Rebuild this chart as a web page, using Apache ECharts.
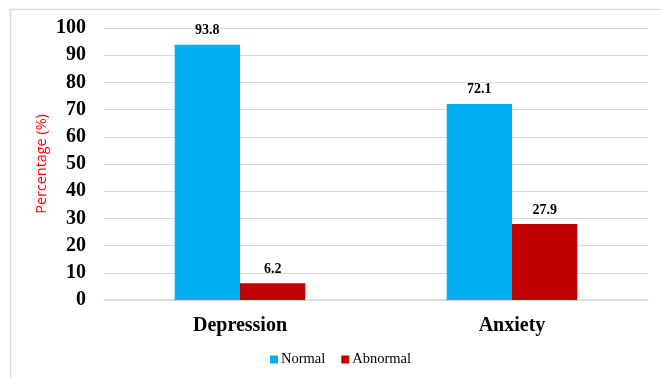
<!DOCTYPE html>
<html>
<head>
<meta charset="utf-8">
<style>
  html, body { margin: 0; padding: 0; background: #fff; }
  #chart { width: 661px; height: 378px; }
</style>
<script src="https://cdn.jsdelivr.net/npm/echarts@6/dist/echarts.min.js"></script>
</head>
<body>
<div id="chart"></div>
<script>
// Screening outcomes by scale
const categories = ['Depression', 'Anxiety'];
const normalValues = [93.8, 72.1];
const abnormalValues = [6.2, 27.9];
const seriesNames = ['Normal', 'Abnormal'];
const yTicks = [0, 10, 20, 30, 40, 50, 60, 70, 80, 90, 100];

const serif = '"Liberation Serif", "Times New Roman", serif';
const chart = echarts.init(document.getElementById('chart'), null, { renderer: 'canvas' });

const labelStyle = {
  show: true,
  position: 'top',
  distance: 7,
  fontFamily: serif,
  fontWeight: 'bold',
  fontSize: 14,
  color: '#000'
};

chart.setOption({
  animation: false,
  backgroundColor: '#fff',
  graphic: [{
    type: 'polyline',
    shape: { points: [[10.5, 378], [10.5, 9.5], [661, 9.5]] },
    style: { stroke: '#d9d9d9', lineWidth: 1.5, fill: null },
    silent: true
  }],
  legend: {
    data: seriesNames,
    bottom: 6,
    left: 265,
    itemWidth: 8,
    itemHeight: 8,
    itemGap: 16,
    icon: 'rect',
    textStyle: { fontFamily: serif, fontSize: 14.5, color: '#000', padding: [0, 0, 0, -2] }
  },
  grid: { left: 104, right: 13, top: 28, bottom: 78 },
  xAxis: {
    type: 'category',
    data: categories,
    axisTick: { show: false },
    axisLine: { lineStyle: { color: '#d9d9d9', width: 1.5 } },
    axisLabel: {
      fontFamily: serif,
      fontWeight: 'bold',
      fontSize: 20,
      color: '#000',
      margin: 16
    }
  },
  yAxis: {
    type: 'value',
    min: 0,
    max: 100,
    interval: 10,
    name: 'Percentage (%)',
    nameLocation: 'middle',
    nameGap: 55,
    nameMoveOverlap: false,
    nameTextStyle: { fontFamily: '"Open Sans", "Liberation Sans", sans-serif', fontSize: 14.4, color: '#ff0000' },
    axisLine: { show: false },
    axisTick: { show: false },
    splitLine: { lineStyle: { color: '#d9d9d9', width: 1 } },
    axisLabel: {
      fontFamily: serif,
      fontWeight: 'bold',
      fontSize: 20,
      color: '#000',
      margin: 18,
      formatter: function (v) { return yTicks.indexOf(v) >= 0 ? String(v) : ''; }
    }
  },
  series: [
    {
      name: seriesNames[0],
      type: 'bar',
      data: normalValues,
      barGap: '0%',
      barCategoryGap: '52%',
      itemStyle: { color: '#00b0f0' },
      label: labelStyle
    },
    {
      name: seriesNames[1],
      type: 'bar',
      data: abnormalValues,
      itemStyle: { color: '#c00000' },
      label: labelStyle
    }
  ]
});
</script>
</body>
</html>
